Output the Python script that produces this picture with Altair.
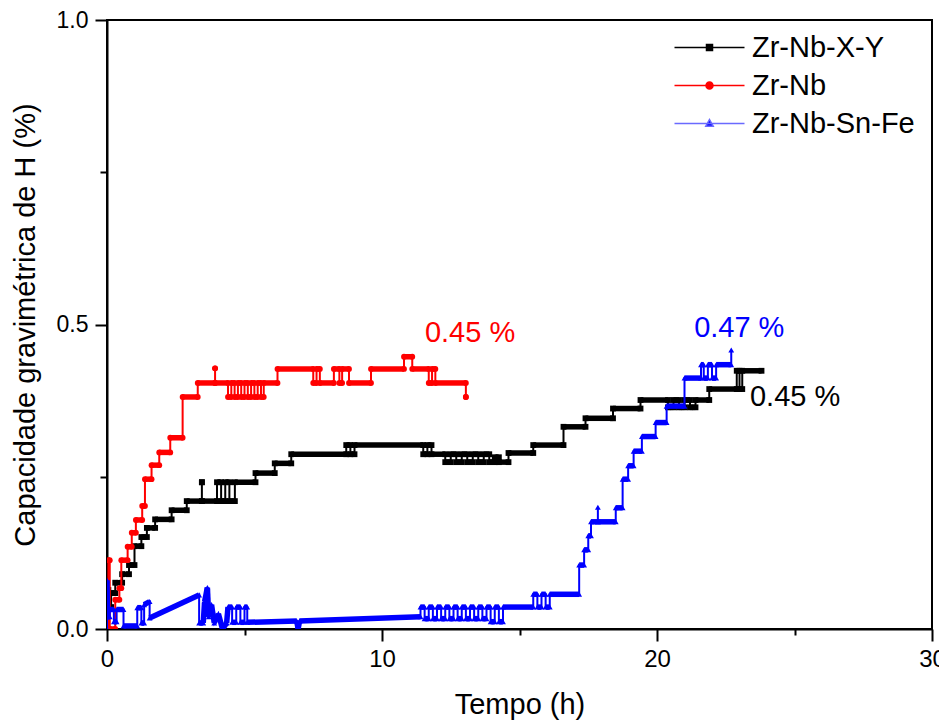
import altair as alt
import pandas as pd

FONT = "Liberation Sans"

X_TICKS = [0, 5, 10, 15, 20, 25, 30]
Y_TICKS = [0, 0.25, 0.5, 0.75, 1.0]
SERIES = ["Zr-Nb-X-Y", "Zr-Nb", "Zr-Nb-Sn-Fe"]
COLORS = ["#000000", "#ff0000", "#0000ff"]
LEGEND_STROKES = ["#000000", "#ff0000", "#6a6aff"]
MARKERS = ["square", "circle", "triangle-up"]

# Zr-Nb-X-Y : step levels (start time, end time, value)
BLK_T0 = [0.0, 0.05, 0.15, 0.3, 0.55, 0.8, 1.0, 1.25, 1.45, 1.75, 2.35, 2.9, 3.45, 3.45, 4.0, 4.15,
          4.3, 4.45, 4.65, 5.4, 6.1, 6.7, 8.7, 8.85, 9.0, 11.5, 11.65, 11.8, 12.3, 12.5, 12.7, 12.9,
          13.1, 13.3, 13.5, 13.7, 13.9, 14.1, 14.25, 14.6, 15.5, 16.6, 17.4, 18.4, 19.4, 20.4, 20.6,
          20.8, 21.0, 21.2, 21.4, 21.9, 22.9, 23.0, 23.1]
BLK_T1 = [0.05, 0.15, 0.3, 0.55, 0.8, 1.0, 1.25, 1.45, 1.75, 2.35, 2.9, 3.45, 3.45, 4.0, 4.15, 4.3,
          4.45, 4.65, 5.4, 6.1, 6.7, 8.7, 8.85, 9.0, 11.5, 11.65, 11.8, 12.3, 12.5, 12.7, 12.9, 13.1,
          13.3, 13.5, 13.7, 13.9, 14.1, 14.25, 14.6, 15.5, 16.6, 17.4, 18.4, 19.4, 20.4, 20.6, 20.8,
          21.0, 21.2, 21.4, 21.9, 22.9, 23.0, 23.1, 23.8]
BLK_V = [0.064, 0.036, 0.059, 0.076, 0.09, 0.105, 0.136, 0.151, 0.166, 0.18, 0.195, 0.21, 0.241, 0.21,
         0.241, 0.21, 0.241, 0.21, 0.241, 0.256, 0.272, 0.287, 0.302, 0.287, 0.302, 0.287, 0.302,
         0.287, 0.274, 0.287, 0.274, 0.287, 0.274, 0.287, 0.274, 0.287, 0.274, 0.282, 0.274, 0.289,
         0.302, 0.332, 0.346, 0.362, 0.376, 0.364, 0.376, 0.364, 0.376, 0.364, 0.376, 0.394, 0.424,
         0.394, 0.424]

# Zr-Nb : step levels (start time, end time, value)
RED_T0 = [0.0, 0.05, 0.1, 0.3, 0.45, 0.52, 0.75, 0.9, 1.05, 1.28, 1.38, 1.62, 1.9, 2.3, 2.75, 3.3,
          3.93, 3.93, 4.4, 4.52, 4.64, 4.76, 4.88, 5.0, 5.12, 5.24, 5.36, 5.48, 5.6, 5.7, 6.2, 7.5,
          7.62, 7.74, 8.25, 8.45, 8.55, 8.8, 9.6, 10.8, 11.1, 11.7, 11.82, 11.94, 13.05]
RED_T1 = [0.05, 0.1, 0.3, 0.45, 0.52, 0.75, 0.9, 1.05, 1.28, 1.38, 1.62, 1.9, 2.3, 2.75, 3.3, 3.93,
          3.93, 4.4, 4.52, 4.64, 4.76, 4.88, 5.0, 5.12, 5.24, 5.36, 5.48, 5.6, 5.7, 6.2, 7.5, 7.62,
          7.74, 8.25, 8.45, 8.55, 8.8, 9.6, 10.8, 11.1, 11.7, 11.82, 11.94, 13.05, 13.05]
RED_V = [0.0, 0.113, 0.0, 0.048, 0.067, 0.113, 0.135, 0.158, 0.179, 0.202, 0.246, 0.269, 0.29, 0.314,
         0.381, 0.404, 0.428, 0.404, 0.381, 0.404, 0.381, 0.404, 0.381, 0.404, 0.381, 0.404, 0.381,
         0.404, 0.381, 0.404, 0.427, 0.404, 0.427, 0.404, 0.427, 0.404, 0.427, 0.404, 0.427, 0.447,
         0.427, 0.404, 0.427, 0.404, 0.381]

# Zr-Nb-Sn-Fe : recorded points (time, value)
BLU_T = [0.0, 0.0, 0.02, 0.1, 0.1, 0.25, 0.25, 0.35, 0.35, 0.6, 0.6, 1.1, 1.1, 1.25, 1.25, 1.35,
         1.35, 1.55, 1.55, 3.35, 3.35, 3.5, 3.55, 3.65, 3.7, 3.8, 3.9, 4.05, 4.2, 4.35, 4.4, 4.55,
         4.55, 4.7, 4.7, 4.85, 4.85, 5.0, 5.0, 5.1, 5.1, 6.9, 6.95, 7.0,
         11.4, 11.4, 11.55, 11.55, 11.7, 11.7, 11.85, 11.85, 12.0, 12.0, 12.15, 12.15, 12.3, 12.3,
         12.45, 12.45, 12.6, 12.6, 12.75, 12.75, 12.9, 12.9, 13.05, 13.05, 13.2, 13.2, 13.35, 13.35,
         13.5, 13.5, 13.65, 13.65, 13.8, 13.8, 13.95, 13.95, 14.1, 14.1, 14.25, 14.25, 14.4, 14.4,
         15.5, 15.5, 15.65, 15.65, 15.8, 15.8, 15.95, 15.95, 16.1, 16.1, 17.17, 17.17, 17.35, 17.35,
         17.5, 17.5, 17.6, 17.6, 17.85, 17.85, 17.85, 18.5, 18.5, 18.75, 18.75, 18.95, 18.95, 19.15,
         19.15, 19.45, 19.45, 19.95, 19.95, 20.35, 20.35, 21.0, 21.0, 21.6, 21.6, 21.7, 21.7,
         21.85, 21.85, 22.0, 22.0, 22.15, 22.15, 22.7, 22.7]
BLU_V = [0.0, 0.08, 0.02, 0.02, 0.032, 0.032, 0.012, 0.012, 0.032, 0.032, 0.005, 0.005, 0.035,
         0.035, 0.01, 0.01, 0.04, 0.045, 0.018, 0.056, 0.01, 0.01, 0.045, 0.068, 0.02, 0.04, 0.01,
         0.025, 0.0, 0.01, 0.036, 0.036, 0.011, 0.011, 0.036, 0.036, 0.011, 0.011, 0.036, 0.036,
         0.011, 0.013, 0.0, 0.013,
         0.02, 0.036, 0.036, 0.017, 0.017, 0.036, 0.036, 0.017, 0.017, 0.036, 0.036, 0.017, 0.017,
         0.036, 0.036, 0.017, 0.017, 0.036, 0.036, 0.017, 0.017, 0.036, 0.036, 0.017, 0.017, 0.036,
         0.036, 0.017, 0.017, 0.036, 0.036, 0.017, 0.017, 0.036, 0.036, 0.012, 0.012, 0.036, 0.036,
         0.012, 0.012, 0.036,
         0.036, 0.057, 0.057, 0.036, 0.036, 0.057, 0.057, 0.036, 0.036, 0.057, 0.057, 0.105, 0.105,
         0.13, 0.13, 0.153, 0.153, 0.176, 0.176, 0.2, 0.176, 0.176, 0.199, 0.199, 0.246, 0.246,
         0.268, 0.268, 0.292, 0.292, 0.316, 0.316, 0.339, 0.339, 0.366, 0.366, 0.412, 0.412, 0.434,
         0.434, 0.412, 0.412, 0.434, 0.434, 0.412, 0.412, 0.434, 0.434, 0.458]

ANN_T = [11.56, 21.35, 23.38]
ANN_V = [0.486, 0.494, 0.381]
ANN_TEXT = ["0.45 %", "0.47 %", "0.45 %"]
ANN_COLOR = ["#ff0000", "#0000ff", "#000000"]


def level_vertices(t0s, t1s, vs):
    ts, ys = [], []
    for a, b, v in zip(t0s, t1s, vs):
        ts += [a, b]
        ys += [v, v]
    return ts, ys


def frames(ts, ys):
    pts = pd.DataFrame({"t": ts, "v": ys, "i": list(range(len(ts)))})
    segs = pd.DataFrame({"t0": ts[:-1], "t1": ts[1:], "v0": ys[:-1], "v1": ys[1:]})
    segs = segs[segs.t0 != segs.t1].reset_index(drop=True)
    return pts, segs


xaxis = alt.Axis(
    values=X_TICKS, format="d",
    labelExpr="datum.value % 10 === 0 ? datum.label : ''",
    tickSize={"condition": {"test": "datum.value % 10 === 0", "value": 12}, "value": 6},
    title="Tempo (h)", labelFontSize=24, titleFontSize=29, labelPadding=6, titlePadding=19,
    grid=False, domainWidth=2, tickWidth=2, domainColor="black", tickColor="black",
    labelColor="black", titleColor="black", labelFont=FONT, titleFont=FONT,
    titleFontWeight="normal", labelFlush=False, labelOverlap=False,
)
yaxis = alt.Axis(
    values=Y_TICKS, format=".1f",
    labelExpr="(datum.value === 0.25 || datum.value === 0.75) ? '' : datum.label",
    tickSize={"condition": {"test": "datum.value === 0.25 || datum.value === 0.75", "value": 7}, "value": 12},
    title="Capacidade gravimétrica de H (%)", labelFontSize=23, titleFontSize=29,
    labelPadding=7, titlePadding=16,
    grid=False, domainWidth=2, tickWidth=2, domainColor="black", tickColor="black",
    labelColor="black", titleColor="black", labelFont=FONT, titleFont=FONT,
    titleFontWeight="normal", labelFlush=False, labelOverlap=False,
)
xscale = alt.Scale(domain=[0, 30], nice=False, zero=False)
yscale = alt.Scale(domain=[0, 1], nice=False, zero=False)


def X(f):
    return alt.X(f, type="quantitative", scale=xscale, axis=xaxis)


def Y(f):
    return alt.Y(f, type="quantitative", scale=yscale, axis=yaxis)


series_data = [
    level_vertices(BLK_T0, BLK_T1, BLK_V),
    level_vertices(RED_T0, RED_T1, RED_V),
    (BLU_T, BLU_V),
]

layers = []
for (ts, ys), col, shp in zip(series_data, COLORS, MARKERS):
    pts, segs = frames(ts, ys)
    line = alt.Chart(pts).mark_line(color=col, strokeWidth=2, clip=True).encode(
        x=X("t"), y=Y("v"), order="i:Q")
    thick = alt.Chart(segs).mark_rule(color=col, strokeWidth=5.5, clip=True).encode(
        x=X("t0"), x2="t1", y=Y("v0"), y2="v1")
    marks = alt.Chart(pts).mark_point(color=col, filled=True, shape=shp, size=34, opacity=1,
                                      clip=True).encode(x=X("t"), y=Y("v"))
    layers += [line, thick, marks]

ann = pd.DataFrame({"t": ANN_T, "v": ANN_V, "txt": ANN_TEXT, "c": ANN_COLOR})
layers.append(
    alt.Chart(ann).mark_text(align="left", baseline="middle", fontSize=29, font=FONT).encode(
        x=X("t"), y=Y("v"), text="txt:N", color=alt.Color("c:N", scale=None))
)

LEG_PATHS = [
    "M-7,0H7M-0.6,-0.6H0.6V0.6H-0.6Z",
    "M-7,0H7M0.7,0A0.7,0.7 0 1 1 -0.7,0A0.7,0.7 0 1 1 0.7,0Z",
    "M-7,0H7M0,-0.8L0.75,0.55H-0.75Z",
]
leg_df = pd.DataFrame({"series": SERIES, "t": [-10] * 3, "v": [0.5] * 3})
legend = alt.Legend(
    title=None, orient="none", legendX=588, legendY=13, labelFontSize=29, labelFont=FONT,
    labelColor="black", symbolSize=100, symbolStrokeWidth=1.5, labelOffset=28, rowPadding=8,
    padding=0, symbolOpacity=1, labelLimit=400,
)
layers.append(
    alt.Chart(leg_df).mark_point(filled=True, clip=True, strokeWidth=1.5).encode(
        x=X("t"), y=Y("v"),
        shape=alt.Shape("series:N", scale=alt.Scale(domain=SERIES, range=LEG_PATHS), legend=legend),
        fill=alt.Fill("series:N", scale=alt.Scale(domain=SERIES, range=COLORS), legend=legend),
        stroke=alt.Stroke("series:N", scale=alt.Scale(domain=SERIES, range=LEGEND_STROKES), legend=legend),
    )
)

chart = alt.layer(*layers).properties(
    width=825, height=609,
    autosize=alt.AutoSizeParams(type="none"),
    padding={"left": 99, "top": 12, "right": 7, "bottom": 96},
    background="white",
).configure_view(stroke="black", strokeWidth=2)

chart.save("out.html", embed_options={"renderer": "svg", "actions": False})
